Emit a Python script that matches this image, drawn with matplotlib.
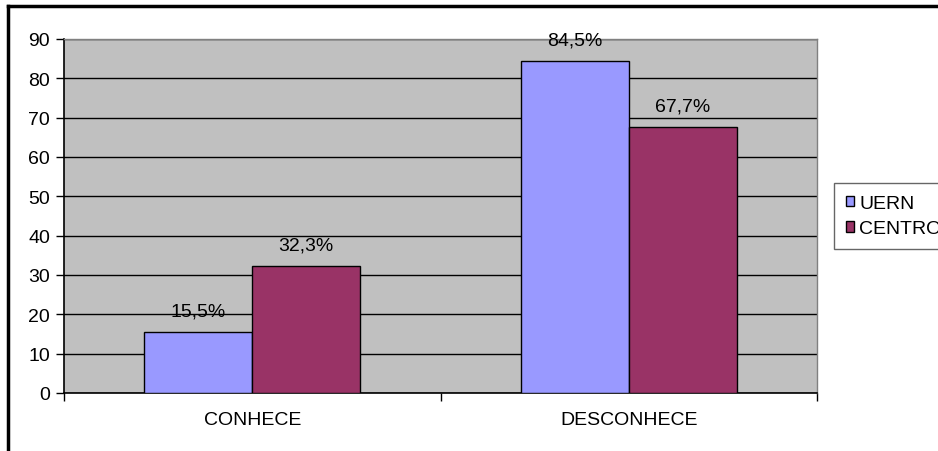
import numpy as np
import matplotlib
matplotlib.use('Agg')
from matplotlib import pyplot as plt
from matplotlib.lines import Line2D

plt.rcParams['font.family'] = ['Liberation Sans', 'DejaVu Sans']

categories = ["CONHECE", "DESCONHECE"]
series = ["UERN", "CENTRO"]
uern = [15.5, 84.5]
centro = [32.3, 67.7]
labels_uern = ["15,5%", "84,5%"]
labels_centro = ["32,3%", "67,7%"]
colors = ["#9999FF", "#993366"]

fs = 14

fig = plt.figure(figsize=(9.38, 4.52), dpi=100)
ax = fig.add_axes([64 / 938, 1 - 394 / 452, (817 - 64) / 938, (394 - 40) / 452])
ax.set_facecolor("#C0C0C0")

x = np.arange(len(categories))
w = 0.287
for i, (vals, labs) in enumerate([(uern, labels_uern), (centro, labels_centro)]):
    pos = x + (i - 0.5) * w
    bars = ax.bar(pos, vals, width=w, color=colors[i], edgecolor="black",
                  linewidth=1, label=series[i], zorder=3)
    for b, lab in zip(bars, labs):
        ax.annotate(lab, xy=(b.get_x() + b.get_width() / 2, b.get_height()),
                    xytext=(0, 15), textcoords="offset points",
                    ha="center", va="center", fontsize=fs, zorder=4)

ax.set_xlim(-0.5, 1.5)
ax.set_ylim(0, 90)
ax.set_yticks(np.arange(0, 91, 10))
ax.yaxis.grid(True, color="black", linewidth=1, zorder=0)
ax.set_axisbelow(True)

ax.set_xticks(x)
ax.set_xticklabels(categories, fontsize=fs)
ax.set_xticks([-0.5, 0.5, 1.5], minor=True)
ax.tick_params(axis="x", which="major", length=0, pad=13)
ax.tick_params(axis="x", which="minor", length=6, width=1, color="black")
ax.tick_params(axis="y", length=6, width=1, labelsize=fs, pad=4)

for s in ["top", "right"]:
    ax.spines[s].set_color("#808080")
    ax.spines[s].set_linewidth(1)
for s in ["left", "bottom"]:
    ax.spines[s].set_color("black")
    ax.spines[s].set_linewidth(1.2)

leg = ax.legend(loc="upper left", bbox_to_anchor=(834 / 938, 1 - 184 / 452),
                bbox_transform=fig.transFigure, frameon=True, fancybox=False,
                fontsize=fs, handlelength=0.45, handleheight=0.45,
                handletextpad=0.25, borderpad=0.6, labelspacing=0.45,
                borderaxespad=0)
leg.get_frame().set_edgecolor("#404040")
leg.get_frame().set_linewidth(1)
for h in leg.legend_handles:
    h.set_edgecolor("black")

# chart border (partly clipped in the original)
fig.add_artist(Line2D([8 / 938, 1.0], [1 - 7 / 452, 1 - 7 / 452],
                      transform=fig.transFigure, color="black", linewidth=2.5))
fig.add_artist(Line2D([8 / 938, 8 / 938], [0, 1 - 7 / 452],
                      transform=fig.transFigure, color="black", linewidth=2.5))

fig.savefig("out.png", dpi=100)
